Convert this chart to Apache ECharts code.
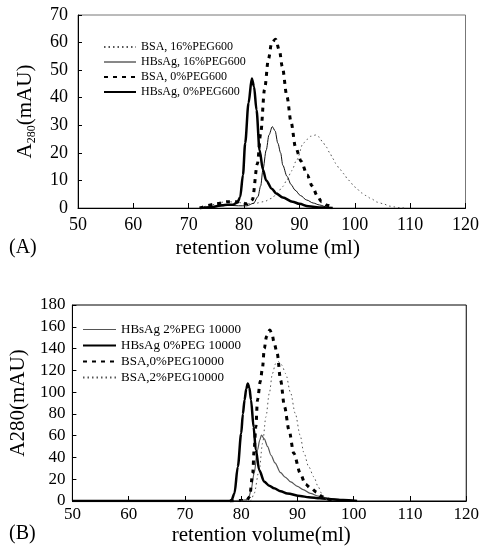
<!DOCTYPE html>
<html>
<head>
<meta charset="utf-8">
<script src="https://cdn.jsdelivr.net/npm/echarts@6/dist/echarts.min.js"></script>
<style>
html,body{margin:0;padding:0;background:#fff;}
#chart{width:482px;height:549px;}
</style>
</head>
<body>
<div id="chart"></div>
<script>
// ---------- Panel A (PEG600) ----------
const xTicksA = [50, 60, 70, 80, 90, 100, 110, 120];
const yTicksA = [0, 10, 20, 30, 40, 50, 60, 70];

const nameBsa16 = 'BSA, 16%PEG600';
const xBsa16 = [72, 74, 75.5, 77, 79, 80.5, 82, 83.6, 85, 85.95, 87, 87.75, 88.6, 89.5, 90.7, 91.4, 92, 93, 93.5, 94.2, 94.8, 95.5, 96, 96.55, 97.3, 98.1, 98.7, 99.6, 100.3, 101.2, 102, 103, 104.1, 105.2, 106.2, 107.2, 108.2, 109];
const yBsa16 = [0, 1, 2, 2.3, 2, 1.5, 1.7, 2.3, 3.5, 5.3, 7.8, 10.2, 13.5, 17.4, 23.5, 24.9, 26, 26.5, 25.8, 24, 22.2, 20, 18, 16.2, 14, 12.3, 10.4, 8.6, 7.1, 5.5, 4.5, 3.3, 2.1, 1.5, 0.7, 0.4, 0.1, 0];

const nameHbs16 = 'HBsAg, 16%PEG600';
const xHbs16 = [72, 75, 77, 79, 80.5, 81.7, 82.5, 83, 83.4, 84, 84.5, 85.1, 85.6, 86.1, 86.6, 87.0, 87.75, 88.5, 89.2, 90.2, 91.3, 92.5, 93.6, 95, 96];
const yHbs16 = [0, 0.5, 1, 0.8, 0.8, 1.7, 4.1, 8, 13.8, 21, 26.5, 29.5, 28, 23.5, 20, 15.5, 11.5, 8.5, 6.5, 4.5, 2.9, 1.8, 1.1, 0.3, 0];

const nameBsa0 = 'BSA, 0%PEG600';
const xBsa0 = [72, 75, 77, 79, 80.5, 81.5, 82.4, 83, 83.7, 84.4, 85, 85.7, 86.4, 86.9, 87.75, 88.5, 89.3, 90.3, 91.4, 92.3, 93.2, 94, 95, 96];
const yBsa0 = [0, 1.5, 2.3, 2.3, 1.5, 3, 16, 27, 43, 54, 60, 61.2, 57, 51.3, 40.4, 31, 22, 17, 12, 8, 4.5, 2.3, 1, 0.3];

const nameHbs0 = 'HBsAg, 0%PEG600';
const xHbs0 = [72, 74, 76, 77, 78, 78.8, 79.3, 79.8, 80.2, 80.8, 81.4, 81.8, 82.25, 82.8, 83.4, 84, 85, 85.8, 87, 88.75, 90, 91.6, 94, 96];
const yHbs0 = [0, 0.3, 1, 1.2, 1.2, 2, 4, 12, 23.5, 38, 47, 44, 35.5, 21, 14, 10, 7, 5.3, 3.8, 2.3, 1.5, 0.6, 0.2, 0];

// ---------- Panel B (PEG10000) ----------
const xTicksB = [50, 60, 70, 80, 90, 100, 110, 120];
const yTicksB = [0, 20, 40, 60, 80, 100, 120, 140, 160, 180];

const nameHbs2B = 'HBsAg 2%PEG 10000';
const xHbs2B = [75, 78, 80, 80.9, 81.4, 81.75, 82.3, 82.9, 83.3, 83.6, 84.1, 84.7, 85.3, 86, 87, 87.8, 88.8, 90, 91, 92.3, 93.7, 95, 96.5, 98, 100];
const yHbs2B = [0, 0.3, 0.5, 1, 4, 10, 25.4, 46.8, 56, 60.6, 57, 50, 42, 35, 26, 22, 17.5, 13.5, 10.5, 7, 4.5, 3, 2, 1, 0.3];

const nameHbs0B = 'HBsAg 0%PEG 10000';
const xHbs0B = [50, 78, 78.3, 78.8, 79.4, 80, 80.3, 80.6, 80.9, 81.17, 81.45, 81.75, 82.2, 82.6, 83.2, 84.1, 85, 85.85, 87, 88.2, 90.5, 92, 94, 96, 98.1, 100.6];
const yHbs0B = [0, 0, 1, 7, 31.5, 62, 80, 92.8, 103, 108, 104, 92.8, 68, 47, 28.5, 17.7, 14, 11.6, 9, 7, 4.5, 3.5, 2.5, 1.5, 1, 0];

const nameBsa0B = 'BSA,0%PEG10000';
const xBsa0B = [78, 81, 81.5, 82.05, 82.3, 82.6, 82.9, 83.4, 83.8, 84.1, 84.5, 85.1, 85.5, 85.85, 86.4, 87, 87.7, 88.5, 89.35, 90.5, 91.4, 92.3, 93.5, 94, 95, 96, 97];
const yBsa0B = [0, 0.5, 4, 25.4, 47, 68, 92.8, 110, 123, 140, 151, 157, 153, 145, 135.6, 111, 86.6, 65, 43.8, 25.4, 15.5, 12, 8, 5, 2.5, 1, 0];

const nameBsa2B = 'BSA,2%PEG10000';
const xBsa2B = [80, 81.75, 82.3, 83.2, 83.8, 84.4, 85, 85.55, 86.1, 86.6, 87.2, 87.9, 88.8, 89.6, 90.5, 91.1, 92, 92.9, 93.7, 94.3, 94.9, 95.5];
const yBsa2B = [0, 0.5, 7, 28.5, 53, 77.4, 99, 117, 126, 128, 125, 117, 99, 80.5, 60, 45, 31.5, 22.3, 13, 7, 2, 0.5];

// ---------- build ----------
function pairs(xs, ys) { return xs.map((x, i) => [x, ys[i]]); }
const FONT = '"Liberation Serif", "Times New Roman", serif';

function mkSeries(name, xs, ys, idx, ls) {
  return {
    name: name, type: 'line', xAxisIndex: idx, yAxisIndex: idx,
    data: pairs(xs, ys), showSymbol: false, symbol: 'none',
    smooth: 0.3, smoothMonotone: 'x', animation: false,
    lineStyle: ls, itemStyle: { color: ls.color }
  };
}

const dotted = { color: '#555', width: 1, type: [1.5, 3] };
const thinSolid = { color: '#111', width: 1, type: 'solid' };
const thickDash = { color: '#000', width: 3, type: [4, 5] };
const thickSolid = { color: '#000', width: 2.5, type: 'solid' };
const thinSolidB = { color: '#555', width: 1.2, type: 'solid' };

function xAx(idx, ticks, fs, margin, nameGap, pad) {
  return {
    type: 'value', gridIndex: idx, min: ticks[0], max: ticks[ticks.length - 1], interval: 10,
    name: idx === 0 ? 'retention volume (ml)' : 'retention volume(ml)',
    nameLocation: 'middle', nameGap: nameGap,
    nameTextStyle: { fontFamily: FONT, fontSize: 21, color: '#000', padding: pad },
    axisLine: { show: true, onZero: false, lineStyle: { color: '#000', width: 1 } },
    axisTick: { show: true, inside: true, length: 5, lineStyle: { color: '#000' } },
    axisLabel: { fontFamily: FONT, fontSize: fs, color: '#000', margin: margin },
    splitLine: { show: false }
  };
}
function yAx(idx, ticks, interval, fs, margin, nameGap, name, rich) {
  return {
    type: 'value', gridIndex: idx, min: ticks[0], max: ticks[ticks.length - 1], interval: interval,
    name: name, nameLocation: 'middle', nameGap: nameGap, nameRotate: 90,
    nameTextStyle: { fontFamily: FONT, fontSize: 21, color: '#000', rich: rich },
    axisLine: { show: true, lineStyle: { color: '#000', width: 1 } },
    axisTick: { show: true, inside: true, length: 4, lineStyle: { color: '#000' } },
    axisLabel: { fontFamily: FONT, fontSize: fs, color: '#000', margin: margin },
    splitLine: { show: false }
  };
}

const chart = echarts.init(document.getElementById('chart'), null, { renderer: 'canvas' });
chart.setOption({
  backgroundColor: '#fff',
  animation: false,
  grid: [
    { left: 78, right: 9, top: 15, bottom: 341, show: true, borderColor: '#777', borderWidth: 1, backgroundColor: 'transparent' },
    { left: 69, right: 14, top: 305, bottom: 48, show: true, borderColor: '#000', borderWidth: 1, backgroundColor: 'transparent' }
  ],
  xAxis: [
    xAx(0, xTicksA, 18, 8, 30, [0, 8, 0, 0]),
    xAx(1, xTicksB, 17, 5, 24, [0, 16, 0, 0])
  ],
  yAxis: [
    yAx(0, yTicksA, 10, 18, 10, 40, '{a|A}{s|280}{a|(mAU)}', {
      a: { fontFamily: FONT, fontSize: 21, color: '#000', lineHeight: 26, verticalAlign: 'middle' },
      s: { fontFamily: FONT, fontSize: 12, color: '#000', lineHeight: 12, verticalAlign: 'bottom' }
    }),
    yAx(1, yTicksB, 20, 17, 7, 36, 'A280(mAU)', null)
  ],
  legend: [
    {
      data: [nameBsa16, { name: nameHbs16, lineStyle: { width: 1 } }, nameBsa0, nameHbs0],
      orient: 'vertical', left: 98, top: 36, itemWidth: 32, itemHeight: 15, itemGap: 3,
      itemStyle: { opacity: 0 },
      textStyle: { fontFamily: FONT, fontSize: 12, color: '#000' }, selectedMode: false
    },
    {
      data: [{ name: nameHbs2B, lineStyle: { width: 1 } }, nameHbs0B, nameBsa0B, nameBsa2B],
      orient: 'vertical', left: 77, top: 318, itemWidth: 33, itemHeight: 15, itemGap: 3,
      itemStyle: { opacity: 0 },
      textStyle: { fontFamily: FONT, fontSize: 13, color: '#000' }, selectedMode: false
    }
  ],
  graphic: [
    { type: 'text', left: 9, top: 238, style: { text: '(A)', font: '20px ' + FONT, fill: '#000' } },
    { type: 'text', left: 9, top: 524, style: { text: '(B)', font: '20px ' + FONT, fill: '#000' } }
  ],
  series: [
    mkSeries(nameBsa16, xBsa16, yBsa16, 0, dotted),
    mkSeries(nameHbs16, xHbs16, yHbs16, 0, thinSolid),
    mkSeries(nameBsa0, xBsa0, yBsa0, 0, thickDash),
    mkSeries(nameHbs0, xHbs0, yHbs0, 0, thickSolid),
    mkSeries(nameHbs2B, xHbs2B, yHbs2B, 1, thinSolidB),
    mkSeries(nameHbs0B, xHbs0B, yHbs0B, 1, thickSolid),
    mkSeries(nameBsa0B, xBsa0B, yBsa0B, 1, thickDash),
    mkSeries(nameBsa2B, xBsa2B, yBsa2B, 1, dotted)
  ]
});
</script>
</body>
</html>
